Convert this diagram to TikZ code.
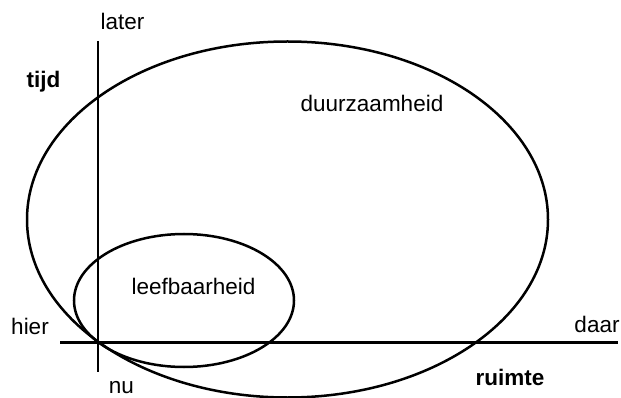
\documentclass[tikz,border=0pt]{standalone}
\usepackage{fontspec}
\setmainfont{Liberation Sans}
\begin{document}
\begin{tikzpicture}[x=1pt,y=-1pt,
  lbl/.style={anchor=base,inner sep=0pt,font=\fontsize{22.5}{24}\selectfont},
  blbl/.style={lbl,font=\fontsize{22.5}{24}\selectfont\bfseries},
  curve/.style={line width=2.5pt},
  axis/.style={line width=2.7pt}]
\useasboundingbox (0,0) rectangle (621,398);
% axes
\coordinate (vtop) at (98,41);
\coordinate (vbot) at (98,372);
\coordinate (hleft) at (60,342.5);
\coordinate (hright) at (618,342.5);
\draw[axis] (vtop) -- (vbot);
\draw[axis] (hleft) -- (hright);
% ellipses
\draw[curve] (287.5,219.5) ellipse [x radius=260.5, y radius=178];
\draw[curve] (184,300.5) ellipse [x radius=110, y radius=66.5];
% labels
\node[lbl] (later) at (122.5,30) {later};
\node[blbl] (tijd) at (43.5,88) {tijd};
\node[lbl] (duur) at (372,112) {duurzaamheid};
\node[lbl] (leef) at (193.5,294) {leefbaarheid};
\node[lbl] (hier) at (30,334) {hier};
\node[lbl] (daar) at (597,332) {daar};
\node[lbl] (nu) at (121.5,393.5) {nu};
\node[blbl] (ruimte) at (510,385) {ruimte};
\end{tikzpicture}
\end{document}
